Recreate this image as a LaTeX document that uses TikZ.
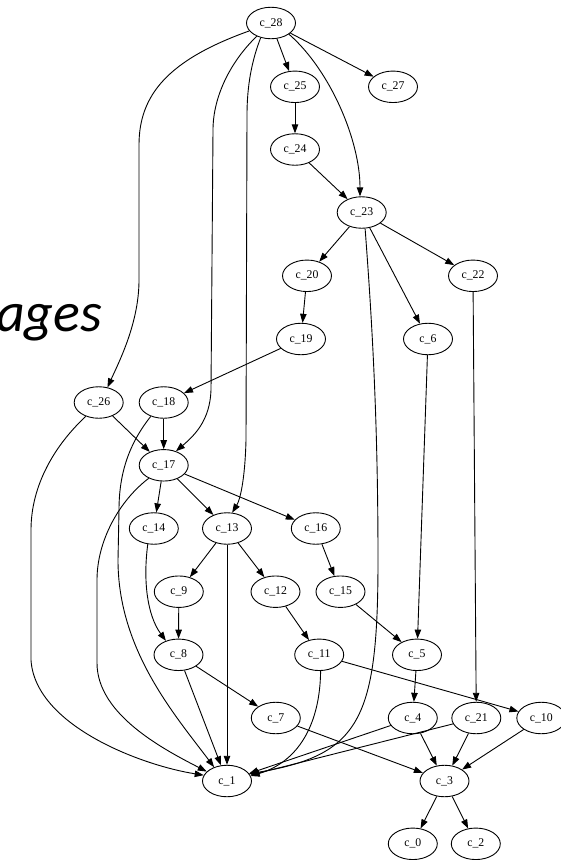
\documentclass[tikz,border=0pt]{standalone}
\usepackage{fontspec}
\setmainfont{Liberation Serif}
\newfontfamily\bigfont{Carlito}
\usetikzlibrary{shapes.geometric,arrows.meta}
\begin{document}
\begin{tikzpicture}[x=1pt,y=-1pt,
  vnode/.style={ellipse,draw,line width=0.9pt,minimum width=49pt,minimum height=31.5pt,inner sep=0pt,font=\fontsize{11.8}{14}\selectfont},
  edge/.style={line width=0.9pt,-{Triangle[length=9pt,width=6.5pt]}}]
\useasboundingbox (0,0) rectangle (560,860);
\node[anchor=base east,inner sep=0pt,font=\bigfont\itshape\fontsize{56}{58}\selectfont] (title) at (102.5,331) {pages};
% nodes
\node[vnode] (c28) at (271,23) {c\_28};
\node[vnode] (c25) at (295,86.8) {c\_25};
\node[vnode] (c27) at (393,86.8) {c\_27};
\node[vnode] (c24) at (295,149.5) {c\_24};
\node[vnode] (c23) at (361.7,212.5) {c\_23};
\node[vnode] (c20) at (307,275.8) {c\_20};
\node[vnode] (c22) at (473,275.8) {c\_22};
\node[vnode] (c19) at (301,339) {c\_19};
\node[vnode] (c6) at (428,339) {c\_6};
\node[vnode] (c26) at (98.7,402.5) {c\_26};
\node[vnode] (c18) at (163.7,402.5) {c\_18};
\node[vnode] (c17) at (163.7,465.3) {c\_17};
\node[vnode] (c14) at (153.8,528.5) {c\_14};
\node[vnode] (c13) at (227,528.5) {c\_13};
\node[vnode] (c16) at (315.8,528.5) {c\_16};
\node[vnode] (c9) at (178.8,591.7) {c\_9};
\node[vnode] (c12) at (275.5,591.7) {c\_12};
\node[vnode] (c15) at (340.5,591.7) {c\_15};
\node[vnode] (c8) at (178.5,654.8) {c\_8};
\node[vnode] (c11) at (319.2,654.8) {c\_11};
\node[vnode] (c5) at (417,654.8) {c\_5};
\node[vnode] (c7) at (275.8,718) {c\_7};
\node[vnode] (c4) at (412.8,718) {c\_4};
\node[vnode] (c21) at (476.3,718) {c\_21};
\node[vnode] (c10) at (541.3,718) {c\_10};
\node[vnode] (c1) at (227,781) {c\_1};
\node[vnode] (c3) at (444.5,781) {c\_3};
\node[vnode] (c0) at (412.8,843.8) {c\_0};
\node[vnode] (c2) at (475.8,843.8) {c\_2};
% straight edges
\foreach \a/\b in {c28/c25,c28/c27,c25/c24,c24/c23,c23/c20,c23/c22,c23/c6,c20/c19,c19/c18,c22/c21,c6/c5,
  c26/c17,c18/c17,c17/c14,c17/c13,c17/c16,c13/c9,c13/c12,c13/c1,c16/c15,c9/c8,c12/c11,c15/c5,
  c8/c7,c8/c1,c11/c10,c5/c4,c7/c3,c4/c3,c4/c1,c21/c3,c21/c1,c10/c3,c3/c0,c3/c2}
  \draw[edge] (\a) -- (\b);
% curved edges
\draw[edge] (c28.200) .. controls (168,60) and (139,95) .. (139,145) -- (139,280) .. controls (139,322) and (120,360) .. (c26.60);
\draw[edge] (c28.223) .. controls (232,60) and (213,95) .. (213,130) -- (211,390) .. controls (210,420) and (195,435) .. (c17.49);
\draw[edge] (c28.235) .. controls (252,60) and (247,85) .. (247,115) -- (246,440) .. controls (245,480) and (240,500) .. (c13.72);
\draw[edge] (c28.328) .. controls (330,70) and (360,140) .. (c23.96);
\draw[edge] (c23.282) .. controls (372,320) and (378,420) .. (378,560) .. controls (378,720) and (360,755) .. (c1.18);
\draw[edge] (c11.275) .. controls (320,725) and (298,762) .. (c1.12);
\draw[edge] (c18.227) .. controls (128,445) and (119,475) .. (119,510) -- (118,560) .. controls (118,650) and (175,715) .. (c1.133);
\draw[edge] (c17.221) .. controls (120,500) and (97,540) .. (97,580) -- (97,663) .. controls (97,715) and (165,750) .. (c1.155);
\draw[edge] (c26.227) .. controls (55,445) and (31,485) .. (31,530) -- (31,660) .. controls (35,725) and (140,765) .. (c1.166);
\draw[edge] (c14.249) .. controls (143,580) and (147,615) .. (c8.132);
\end{tikzpicture}
\end{document}
